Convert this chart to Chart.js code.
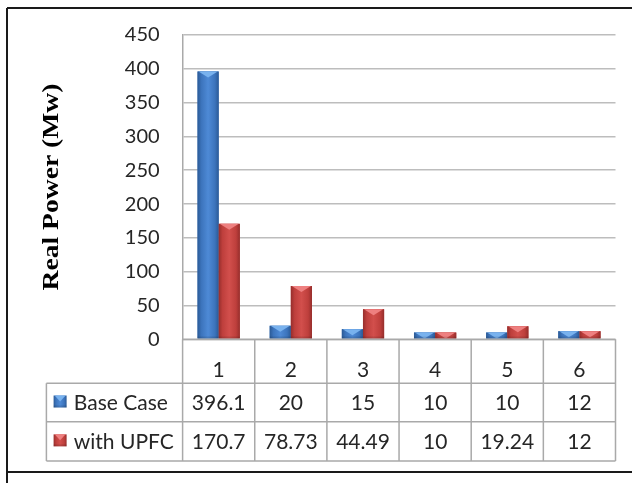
<!DOCTYPE html>
<html>
<head>
<meta charset="utf-8">
<script src="https://cdn.jsdelivr.net/npm/chart.js@4/dist/chart.umd.min.js"></script>
<style>
  html, body { margin: 0; padding: 0; background: #ffffff; }
  canvas { display: block; }
</style>
</head>
<body>
<canvas id="c" width="632" height="483"></canvas>
<script>
// ---- data ----
const categories = ['1', '2', '3', '4', '5', '6'];
const seriesNames = ['Base Case', 'with UPFC'];
const baseCase = [396.1, 20, 15, 10, 10, 12];
const withUPFC = [170.7, 78.73, 44.49, 10, 19.24, 12];
const baseCaseLabels = ['396.1', '20', '15', '10', '10', '12'];
const withUPFCLabels = ['170.7', '78.73', '44.49', '10', '19.24', '12'];
const yTicks = [0, 50, 100, 150, 200, 250, 300, 350, 400, 450];
const yTitle = 'Real Power (Mw)';

// ---- styles ----
const TEXT = '#262626';
const FONT = 'Lato, "Open Sans", sans-serif';
const palettes = [
  { dark: '#2B5A96', mid: '#3C74BC', light: '#4E8AD6', hi: '#79B2EE' },
  { dark: '#962E2C', mid: '#BE3F3C', light: '#D24F4C', hi: '#EE8080' }
];
const tableLabels = [baseCaseLabels, withUPFCLabels];

function barFill(ctx, left, top, w, h, p) {
  const g = ctx.createLinearGradient(left, 0, left + w, 0);
  g.addColorStop(0, p.dark);
  g.addColorStop(0.18, p.mid);
  g.addColorStop(0.5, p.light);
  g.addColorStop(0.82, p.mid);
  g.addColorStop(1, p.dark);
  ctx.fillStyle = g;
  ctx.fillRect(left, top, w, h);
  const d = Math.min(6, h);
  ctx.fillStyle = p.hi;
  ctx.beginPath();
  ctx.moveTo(left + 1, top);
  ctx.lineTo(left + w - 1, top);
  ctx.lineTo(left + w / 2, top + d);
  ctx.closePath();
  ctx.fill();
  const bg = ctx.createLinearGradient(0, top + h - 3, 0, top + h);
  bg.addColorStop(0, 'rgba(0,0,0,0)');
  bg.addColorStop(1, 'rgba(0,0,0,0.18)');
  ctx.fillStyle = bg;
  ctx.fillRect(left, Math.max(top, top + h - 3), w, Math.min(3, h));
}

const decor = {
  id: 'decor',
  beforeDraw(chart) {
    const ctx = chart.ctx;
    ctx.save();
    ctx.fillStyle = '#ffffff';
    ctx.fillRect(0, 0, chart.width, chart.height);
    ctx.restore();
  },
  afterDatasetsDraw(chart) {
    const ctx = chart.ctx;
    ctx.save();
    chart.data.datasets.forEach((ds, di) => {
      const meta = chart.getDatasetMeta(di);
      meta.data.forEach(el => {
        const { x, y, base, width } = el.getProps(['x', 'y', 'base', 'width'], true);
        barFill(ctx, x - width / 2, y, width, base - y, palettes[di]);
      });
    });
    ctx.restore();
  },
  afterDraw(chart) {
    const ctx = chart.ctx;
    const xs = chart.scales.x;
    const area = chart.chartArea;
    const n = categories.length;
    const cw = (area.right - area.left) / n;
    const rowTop = area.bottom;
    const r1 = rowTop + 44, r2 = r1 + 38.4, r3 = r2 + 39.3;
    const tableLeft = 46.4;
    ctx.save();
    // table grid
    ctx.strokeStyle = '#A9A9A9';
    ctx.lineWidth = 1.5;
    ctx.beginPath();
    ctx.moveTo(area.left, rowTop); ctx.lineTo(area.right, rowTop);
    [r1, r2, r3].forEach(yy => { ctx.moveTo(tableLeft, yy); ctx.lineTo(area.right, yy); });
    for (let i = 0; i <= n; i++) {
      const bx = area.left + i * cw;
      ctx.moveTo(bx, rowTop); ctx.lineTo(bx, r3);
    }
    ctx.moveTo(tableLeft, r1); ctx.lineTo(tableLeft, r3);
    ctx.stroke();
    // table text
    ctx.fillStyle = TEXT;
    ctx.font = '21px ' + FONT;
    ctx.textBaseline = 'middle';
    const rowCenters = [(r1 + r2) / 2, (r2 + r3) / 2];
    tableLabels.forEach((labels, si) => {
      ctx.textAlign = 'center';
      labels.forEach((t, i) => {
        ctx.fillText(t, xs.getPixelForValue(i), rowCenters[si] + 1);
      });
      ctx.textAlign = 'left';
      ctx.fillStyle = TEXT;
      ctx.fillText(seriesNames[si], 73.8, rowCenters[si] + 1);
      barFill(ctx, 53.6, rowCenters[si] - 7, 13, 12, palettes[si]);
      ctx.fillStyle = TEXT;
    });
    // y title
    ctx.save();
    ctx.translate(52, 187);
    ctx.rotate(-Math.PI / 2);
    ctx.scale(1.2, 1);
    ctx.font = 'bold 23px "Liberation Serif", "Times New Roman", serif';
    ctx.textAlign = 'center';
    ctx.textBaseline = 'middle';
    ctx.fillStyle = '#000000';
    ctx.fillText(yTitle, 0, 0);
    ctx.restore();
    // frame
    ctx.strokeStyle = '#1a1a1a';
    ctx.lineWidth = 2;
    ctx.beginPath();
    ctx.moveTo(7, 8); ctx.lineTo(chart.width, 8);
    ctx.moveTo(7, 8); ctx.lineTo(7, chart.height);
    ctx.moveTo(7, 472); ctx.lineTo(chart.width, 472);
    ctx.stroke();
    ctx.restore();
  }
};

new Chart(document.getElementById('c').getContext('2d'), {
  type: 'bar',
  data: {
    labels: categories,
    datasets: [
      { label: seriesNames[0], data: baseCase, backgroundColor: palettes[0].mid, categoryPercentage: 0.586, barPercentage: 1 },
      { label: seriesNames[1], data: withUPFC, backgroundColor: palettes[1].mid, categoryPercentage: 0.586, barPercentage: 1 }
    ]
  },
  options: {
    responsive: false,
    animation: false,
    devicePixelRatio: 1,
    layout: { padding: { top: 34, right: 16.5, bottom: 0, left: 0 } },
    plugins: { legend: { display: false }, tooltip: { enabled: false } },
    scales: {
      x: {
        grid: { display: false },
        border: { display: false },
        ticks: { padding: 10.5, color: TEXT, font: { family: FONT, size: 21 }, maxRotation: 0 },
        afterFit(s) { s.height = 483 - 339.3; }
      },
      y: {
        min: 0, max: 450,
        afterBuildTicks(s) { s.ticks = yTicks.map(v => ({ value: v })); },
        ticks: { padding: 23, color: TEXT, font: { family: FONT, size: 20 } },
        grid: { color: '#BDBDBD', lineWidth: 1.5, drawTicks: false },
        border: { color: '#A9A9A9', width: 1.5 },
        afterFit(s) { s.width = 182.6; }
      }
    }
  },
  plugins: [decor]
});
</script>
</body>
</html>
